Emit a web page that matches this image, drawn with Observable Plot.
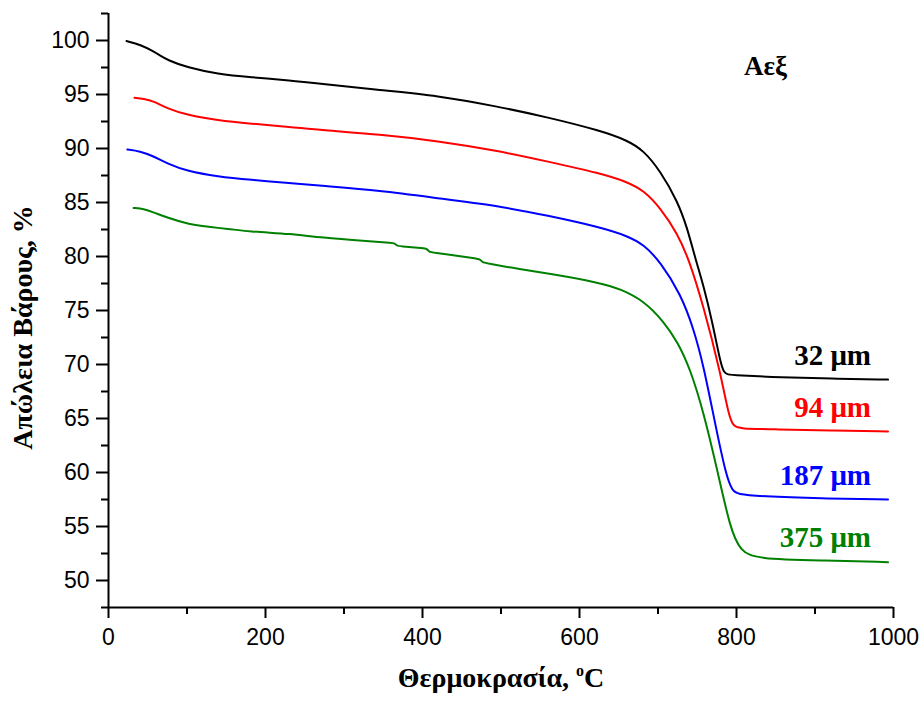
<!DOCTYPE html>
<html>
<head>
<meta charset="utf-8">
<script src="https://cdn.jsdelivr.net/npm/d3@7"></script>
<script src="https://cdn.jsdelivr.net/npm/@observablehq/plot@0.6"></script>
<style>
  html, body { margin: 0; padding: 0; background: #fff; }
</style>
</head>
<body>
<div id="chart"></div>
<script>
// ---- Data ----
const seriesNames = ["32 μm", "94 μm", "187 μm", "375 μm"];
const seriesColors = ["#000000", "#ff0000", "#0000ff", "#008000"];

const temp32 = [23, 41, 57, 66, 75, 100, 139, 181, 232, 270, 346, 419, 495, 559, 627, 661, 682, 703, 725, 737, 748, 758, 769, 780, 784, 788, 800, 856, 920, 993];
const mass32 = [99.95, 99.6, 99.0, 98.6, 98.2, 97.5, 96.9, 96.6, 96.3, 96.0, 95.4, 94.9, 93.9, 92.9, 91.65, 90.75, 89.8, 87.9, 85.1, 82.7, 79.7, 77.3, 74.0, 70.0, 69.3, 69.05, 69.0, 68.8, 68.7, 68.6];

const temp94 = [33, 45, 57, 75, 100, 139, 181, 232, 270, 346, 419, 495, 559, 627, 661, 682, 703, 725, 739, 758, 780, 790, 796, 803, 850, 920, 993];
const mass94 = [94.7, 94.6, 94.4, 93.7, 93.1, 92.6, 92.3, 92.0, 91.7, 91.3, 90.7, 89.8, 88.8, 87.7, 86.9, 86.1, 84.5, 82.1, 79.8, 75.4, 69.1, 65.3, 64.3, 64.05, 64.0, 63.9, 63.8];

const temp187 = [24, 40, 57, 75, 100, 139, 181, 232, 270, 346, 419, 495, 559, 627, 661, 682, 703, 729, 745, 758, 772, 787, 795, 801, 830, 907, 993];
const mass187 = [89.9, 89.75, 89.3, 88.6, 87.9, 87.4, 87.1, 86.8, 86.55, 86.1, 85.4, 84.7, 83.8, 82.7, 81.9, 81.1, 79.5, 76.5, 73.4, 69.9, 64.8, 59.6, 58.3, 58.0, 57.8, 57.6, 57.5];

const temp375 = [32, 45, 57, 75, 100, 139, 181, 232, 270, 334, 362, 364, 368, 370, 403, 405, 409, 411, 455, 471, 473, 477, 479, 525, 563, 627, 652, 682, 707, 725, 741, 758, 775, 792, 805, 826, 907, 993];
const mass375 = [84.5, 84.4, 84.1, 83.6, 83.0, 82.65, 82.3, 82.1, 81.75, 81.4, 81.25, 81.23, 80.98, 80.96, 80.75, 80.73, 80.42, 80.4, 79.96, 79.77, 79.75, 79.44, 79.42, 78.8, 78.4, 77.55, 77.0, 75.9, 74.0, 72.1, 69.6, 65.6, 60.4, 54.8, 52.7, 52.0, 51.85, 51.7];

const xMajorTicks = [0, 200, 400, 600, 800, 1000];
const xMinorTicks = [100, 300, 500, 700, 900];
const yMajorTicks = [50, 55, 60, 65, 70, 75, 80, 85, 90, 95, 100];
const yMinorTicks = [47.5, 52.5, 57.5, 62.5, 67.5, 72.5, 77.5, 82.5, 87.5, 92.5, 97.5, 102.5];
const xDomain = [0, 1000];
const yDomain = [47.5, 102.5];

const sampleTitle = "Αεξ";
const xLabel = "Θερμοκρασία, oC";
const yLabel = "Απώλεια Βάρους, %";

// ---- Build table ----
const temps = [temp32, temp94, temp187, temp375];
const masses = [mass32, mass94, mass187, mass375];
const rows = [];
seriesNames.forEach((name, i) => {
  temps[i].forEach((t, j) => rows.push({series: name, t, w: masses[i][j]}));
});
const ends = seriesNames.map((name, i) => ({
  series: name,
  t: temps[i][temps[i].length - 1],
  w: masses[i][masses[i].length - 1]
}));

const serif = "'Liberation Serif', 'Times New Roman', serif";

const chart = Plot.plot({
  width: 924,
  height: 706,
  marginLeft: 108,
  marginRight: 31,
  marginTop: 13,
  marginBottom: 99,
  style: {fontFamily: "'Liberation Sans', Arial, sans-serif", fontSize: "23px", color: "#000", background: "#fff"},
  x: {domain: xDomain},
  y: {domain: yDomain},
  color: {domain: seriesNames, range: seriesColors},
  marks: [
    Plot.axisY({ticks: yMinorTicks, tickSize: 7, tickFormat: () => "", strokeWidth: 2, label: null}),
    Plot.axisY({ticks: yMajorTicks, tickSize: 12, tickPadding: 7, strokeWidth: 2, fontSize: 23, tickFormat: d => String(d), label: null}),
    Plot.axisX({ticks: xMinorTicks, tickSize: 7, tickFormat: () => "", strokeWidth: 2, label: null}),
    Plot.axisX({ticks: xMajorTicks, tickSize: 11, tickPadding: 10, strokeWidth: 2, fontSize: 23, tickFormat: d => String(d), label: null}),
    Plot.ruleX([xDomain[0]], {strokeWidth: 2}),
    Plot.ruleY([yDomain[0]], {strokeWidth: 2}),
    Plot.line(rows, {x: "t", y: "w", z: "series", stroke: "series", strokeWidth: 2, curve: "basis"}),
    Plot.text(ends, {x: "t", y: "w", text: "series", fill: "series", textAnchor: "end", dx: -17, dy: -24,
      fontFamily: serif, fontWeight: "bold", fontSize: 29}),
    Plot.text([sampleTitle], {frameAnchor: "top-right", dx: -128, dy: 42, textAnchor: "middle",
      fontFamily: serif, fontWeight: "bold", fontSize: 27, fill: "#000"}),
    Plot.text([xLabel], {frameAnchor: "bottom", dy: 79, textAnchor: "middle",
      fontFamily: serif, fontWeight: "bold", fontSize: 28, fill: "#000"}),
    Plot.text([yLabel], {frameAnchor: "left", dx: -85, dy: 17, rotate: -90, textAnchor: "middle",
      fontFamily: serif, fontWeight: "bold", fontSize: 28, fill: "#000"})
  ]
});

// superscript "o" in the x label
chart.querySelectorAll("text").forEach(t => {
  if (t.textContent === xLabel) {
    const ns = "http://www.w3.org/2000/svg";
    while (t.firstChild) t.removeChild(t.firstChild);
    t.appendChild(document.createTextNode("Θερμοκρασία, "));
    const sup = document.createElementNS(ns, "tspan");
    sup.setAttribute("font-size", "16");
    sup.setAttribute("dy", "-11");
    sup.textContent = "o";
    t.appendChild(sup);
    const c = document.createElementNS(ns, "tspan");
    c.setAttribute("dy", "11");
    c.textContent = "C";
    t.appendChild(c);
  }
});

document.getElementById("chart").appendChild(chart);
</script>
</body>
</html>
